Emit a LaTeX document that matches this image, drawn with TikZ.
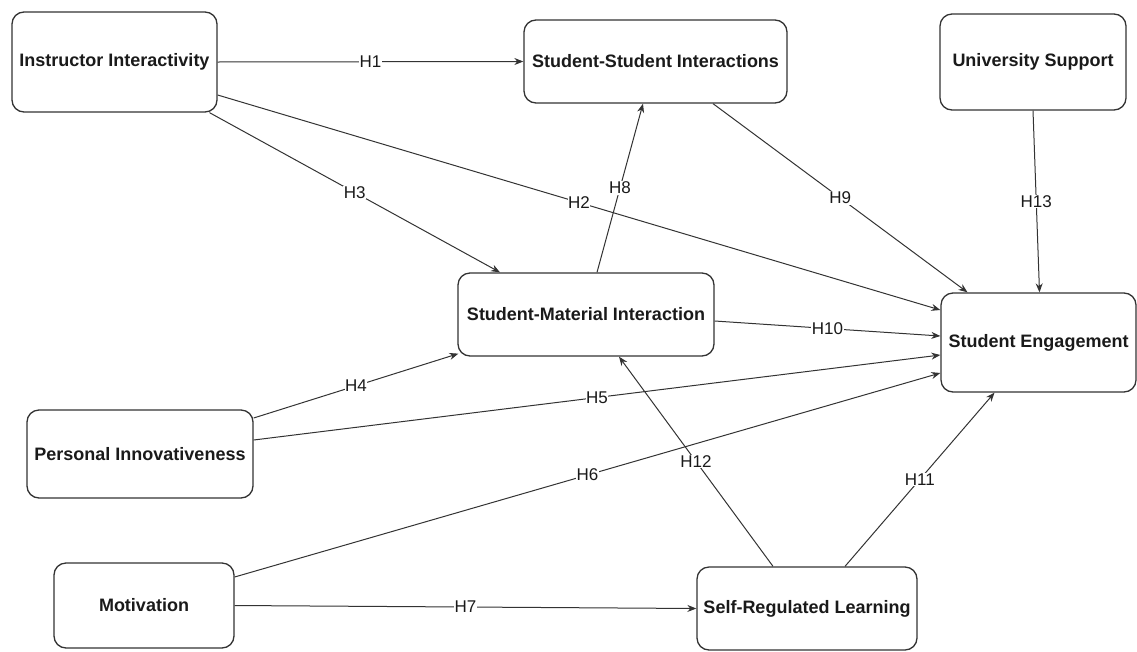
\documentclass[tikz,border=0pt]{standalone}
\usepackage{fontspec}
\setmainfont{Liberation Sans}
\usetikzlibrary{arrows.meta}
\definecolor{linec}{HTML}{333333}
\definecolor{textc}{HTML}{1A1A1A}
\tikzset{
  box/.style={draw=linec, line width=1.3pt, rounded corners=12pt, fill=white, inner sep=0pt,
    font=\fontsize{18}{21}\selectfont\bfseries, text=textc},
  conn/.style={draw=linec, line width=1pt, -{Stealth[length=9pt,width=7pt]}},
  lab/.style={fill=white, inner sep=0.6pt, font=\fontsize{17}{20}\selectfont, text=textc, midway}
}
\begin{document}
\begin{tikzpicture}[x=1pt,y=-1pt]
\useasboundingbox (0,0) rectangle (1137,651);
\node[box, minimum width=205pt, minimum height=100pt] (ii) at (114.5,62) {Instructor Interactivity};
\node[box, minimum width=263pt, minimum height=83pt] (ssi) at (655.5,61.5) {Student-Student Interactions};
\node[box, minimum width=186pt, minimum height=96pt] (us) at (1033,62) {University Support};
\node[box, minimum width=256pt, minimum height=83pt] (smi) at (586,314.5) {Student-Material Interaction};
\node[box, minimum width=195pt, minimum height=99pt] (se) at (1038.5,342.5) {Student Engagement};
\node[box, minimum width=226pt, minimum height=88pt] (pi) at (140,454) {Personal Innovativeness};
\node[box, minimum width=180pt, minimum height=85pt] (mot) at (144,605.5) {Motivation};
\node[box, minimum width=220pt, minimum height=83pt] (srl) at (807,608.5) {Self-Regulated Learning};

\draw[conn] (ii.east) -- (ssi.west) node[lab] {H1};
\draw[conn] ([yshift=-33pt]ii.east) -- ([yshift=32.5pt]se.west) node[lab] {H2};
\draw[conn] ([xshift=95pt]ii.south) -- ([xshift=-86pt]smi.north) node[lab] {H3};
\draw[conn] ([yshift=36pt]pi.east) -- ([xshift=1pt,yshift=3pt]smi.south west) node[lab] {H4};
\draw[conn] ([yshift=14pt]pi.east) -- ([yshift=-12.5pt]se.west) node[lab] {H5};
\draw[conn] ([yshift=28.5pt]mot.east) -- ([yshift=-30.5pt]se.west) node[lab] {H6};
\draw[conn] (mot.east) -- (srl.west) node[lab] {H7};
\draw[conn] ([xshift=11pt]smi.north) -- ([xshift=-12.5pt]ssi.south) node[lab] {H8};
\draw[conn] ([xshift=57.5pt]ssi.south) -- ([xshift=-71pt]se.north) node[lab] {H9};
\draw[conn] ([yshift=-6.5pt]smi.east) -- ([yshift=6.5pt]se.west) node[lab] {H10};
\draw[conn] ([xshift=38pt]srl.north) -- ([xshift=-44pt]se.south) node[lab] {H11};
\draw[conn] ([xshift=-34pt]srl.north) -- ([xshift=33pt]smi.south) node[lab] {H12};
\draw[conn] (us.south) -- ([xshift=1pt]se.north) node[lab] {H13};
\end{tikzpicture}
\end{document}
